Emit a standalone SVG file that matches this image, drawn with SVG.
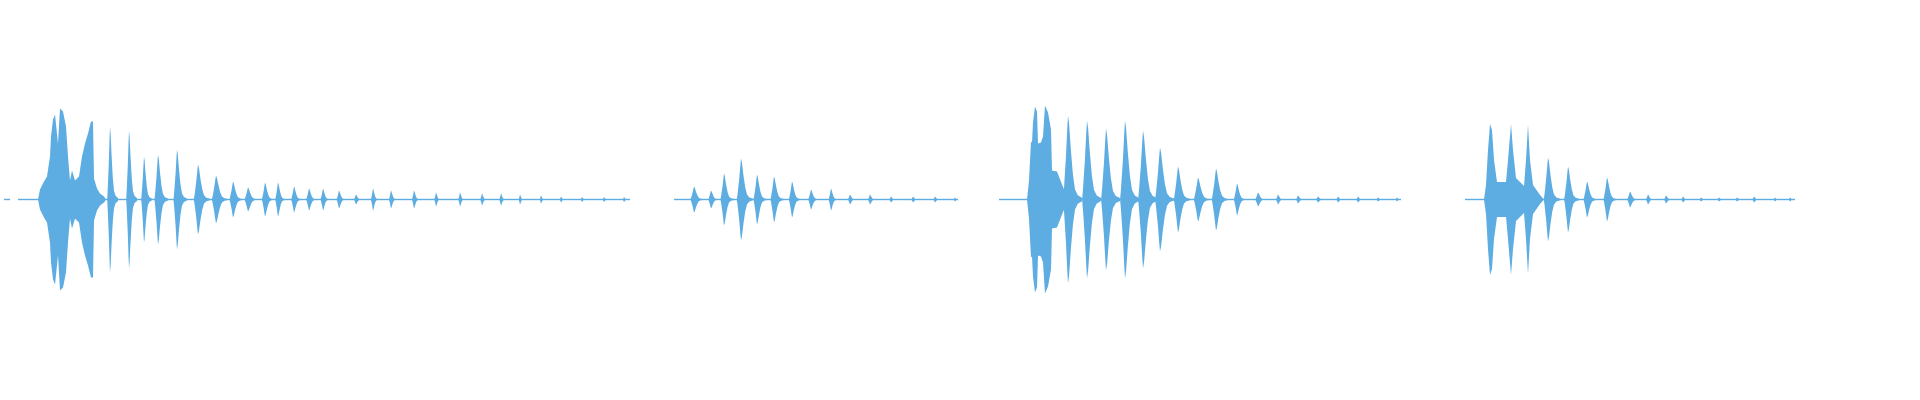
<svg xmlns="http://www.w3.org/2000/svg" xmlns:xlink="http://www.w3.org/1999/xlink" width="1920" height="400" viewBox="0 0 1920 400">
<style>.w{fill:#5DADE2}</style>
<defs>
<path id="b" class="w" d="M-0.35,0 L-0.28,-0.15 L-0.15,-0.5 L-0.05,-0.85 L0,-1 L0.08,-0.9 L0.2,-0.6 L0.35,-0.3 L0.5,-0.12 L0.7,-0.05 L1,-0.02 L1,0.02 L0.7,0.05 L0.5,0.12 L0.35,0.3 L0.2,0.6 L0.08,0.9 L0,1 L-0.05,0.85 L-0.15,0.5 L-0.28,0.15 Z"/>
</defs>
<rect width="1920" height="400" fill="#ffffff"/>
<g class="w">
<rect x="4" y="198.8" width="6" height="1.4"/>
<rect x="18" y="198.8" width="612" height="1.4"/>
<rect x="674" y="198.8" width="284" height="1.4"/>
<rect x="999" y="198.8" width="402" height="1.4"/>
<rect x="1465" y="198.8" width="330" height="1.4"/>
<path d="M38,199.5 L40,189.5 L44,181.5 L47,176.5 L50,156.5 L51,136.5 L53,119.5 L55,114.5 L58,143.5 L60,108.5 L63,111.5 L66,126.5 L68,156.5 L70,180.5 L72,170.5 L75,180.5 L79,176.5 L82,156.5 L85,143.5 L88,133.5 L91,121.5 L93,121.5 L94,178.5 L97,188.5 L100,193.5 L104,196.5 L106,199.5 L104,202.5 L100,205.5 L97,210.5 L94,220.5 L93,277.5 L91,277.5 L88,265.5 L85,255.5 L82,242.5 L79,222.5 L75,218.5 L72,228.5 L70,218.5 L68,242.5 L66,272.5 L63,287.5 L60,290.5 L58,255.5 L55,284.5 L53,279.5 L51,262.5 L50,242.5 L47,222.5 L44,217.5 L40,209.5 Z"/>
<path d="M1027,199.5 L1029,180.5 L1031,141.5 L1032,142.5 L1033,122.5 L1035,106.5 L1037,111.5 L1038,143.5 L1041,142.5 L1043,136.5 L1045,105.5 L1048,112.5 L1051,129.5 L1052,170.5 L1057,171.5 L1062,184.5 L1065,191.5 L1068,199.5 L1065,207.5 L1062,214.5 L1057,227.5 L1052,228.5 L1051,269.5 L1048,286.5 L1045,293.5 L1043,262.5 L1041,256.5 L1038,255.5 L1037,287.5 L1035,292.5 L1033,276.5 L1032,256.5 L1031,257.5 L1029,218.5 Z"/>
<path d="M1484,199.5 L1486,185 L1488,150 L1490,124 L1492,130 L1494,160 L1497,182 L1506,182 L1508,160 L1511,124 L1513,150 L1516,178 L1524,186 L1526,160 L1528,125 L1530,160 L1533,185 L1540,195 L1544,199.5 L1540,204 L1533,214 L1530,239 L1528,274 L1526,239 L1524,213 L1516,221 L1513,249 L1511,275 L1508,239 L1506,217 L1497,217 L1494,239 L1492,269 L1490,275 L1488,249 L1486,214 Z"/>
</g>
<g>
<use href="#b" transform="translate(110,199.5) scale(8,73)"/>
<use href="#b" transform="translate(129,199.5) scale(8,69)"/>
<use href="#b" transform="translate(144,199.5) scale(8,43)"/>
<use href="#b" transform="translate(158,199.5) scale(10,45)"/>
<use href="#b" transform="translate(177,199.5) scale(10,50)"/>
<use href="#b" transform="translate(198,199.5) scale(12,35)"/>
<use href="#b" transform="translate(216,199.5) scale(12,24)"/>
<use href="#b" transform="translate(233,199.5) scale(10,18)"/>
<use href="#b" transform="translate(248,199.5) scale(10,12)"/>
<use href="#b" transform="translate(265,199.5) scale(9,17)"/>
<use href="#b" transform="translate(278,199.5) scale(8,17)"/>
<use href="#b" transform="translate(294,199.5) scale(8,13)"/>
<use href="#b" transform="translate(309,199.5) scale(8,11)"/>
<use href="#b" transform="translate(323,199.5) scale(7,11)"/>
<use href="#b" transform="translate(339,199.5) scale(7,9)"/>
<use href="#b" transform="translate(356,199.5) scale(6,5)"/>
<use href="#b" transform="translate(373,199.5) scale(6,11)"/>
<use href="#b" transform="translate(391,199.5) scale(6,9)"/>
<use href="#b" transform="translate(414,199.5) scale(6,9)"/>
<use href="#b" transform="translate(436,199.5) scale(5,7)"/>
<use href="#b" transform="translate(460,199.5) scale(5,7)"/>
<use href="#b" transform="translate(482,199.5) scale(5,6)"/>
<use href="#b" transform="translate(501,199.5) scale(5,6)"/>
<use href="#b" transform="translate(520,199.5) scale(4,5)"/>
<use href="#b" transform="translate(541,199.5) scale(4,4)"/>
<use href="#b" transform="translate(561,199.5) scale(4,3)"/>
<use href="#b" transform="translate(582,199.5) scale(4,2.5)"/>
<use href="#b" transform="translate(604,199.5) scale(4,2.5)"/>
<use href="#b" transform="translate(624,199.5) scale(4,2.5)"/>

<use href="#b" transform="translate(694,199.5) scale(10,13)"/>
<use href="#b" transform="translate(711,199.5) scale(8,9)"/>
<use href="#b" transform="translate(724,199.5) scale(10,26)"/>
<use href="#b" transform="translate(741,199.5) scale(12,41)"/>
<use href="#b" transform="translate(757,199.5) scale(10,25)"/>
<use href="#b" transform="translate(774,199.5) scale(10,23)"/>
<use href="#b" transform="translate(792,199.5) scale(9,18)"/>
<use href="#b" transform="translate(811,199.5) scale(8,10)"/>
<use href="#b" transform="translate(831,199.5) scale(7,11)"/>
<use href="#b" transform="translate(850,199.5) scale(6,5)"/>
<use href="#b" transform="translate(870,199.5) scale(6,5)"/>
<use href="#b" transform="translate(891,199.5) scale(5,3)"/>
<use href="#b" transform="translate(913,199.5) scale(5,3)"/>
<use href="#b" transform="translate(935,199.5) scale(5,3)"/>
<use href="#b" transform="translate(955,199.5) scale(4,2)"/>

<use href="#b" transform="translate(1068,199.5) scale(14,84)"/>
<use href="#b" transform="translate(1087,199.5) scale(14,79)"/>
<use href="#b" transform="translate(1106,199.5) scale(14,71)"/>
<use href="#b" transform="translate(1125,199.5) scale(14,79)"/>
<use href="#b" transform="translate(1143,199.5) scale(14,69)"/>
<use href="#b" transform="translate(1160,199.5) scale(14,52)"/>
<use href="#b" transform="translate(1178,199.5) scale(12,33)"/>
<use href="#b" transform="translate(1198,199.5) scale(12,22)"/>
<use href="#b" transform="translate(1216,199.5) scale(12,31)"/>
<use href="#b" transform="translate(1237,199.5) scale(9,16)"/>
<use href="#b" transform="translate(1258,199.5) scale(8,7)"/>
<use href="#b" transform="translate(1278,199.5) scale(6,5)"/>
<use href="#b" transform="translate(1298,199.5) scale(6,4)"/>
<use href="#b" transform="translate(1318,199.5) scale(6,3)"/>
<use href="#b" transform="translate(1338,199.5) scale(5,3)"/>
<use href="#b" transform="translate(1358,199.5) scale(5,3)"/>
<use href="#b" transform="translate(1378,199.5) scale(5,2)"/>
<use href="#b" transform="translate(1397,199.5) scale(4,2)"/>

<use href="#b" transform="translate(1548,199.5) scale(12,42)"/>
<use href="#b" transform="translate(1568,199.5) scale(11,33)"/>
<use href="#b" transform="translate(1587,199.5) scale(10,18)"/>
<use href="#b" transform="translate(1607,199.5) scale(10,22)"/>
<use href="#b" transform="translate(1630,199.5) scale(8,8)"/>
<use href="#b" transform="translate(1648,199.5) scale(6,5)"/>
<use href="#b" transform="translate(1666,199.5) scale(6,4)"/>
<use href="#b" transform="translate(1683,199.5) scale(5,3)"/>
<use href="#b" transform="translate(1701,199.5) scale(5,2)"/>
<use href="#b" transform="translate(1719,199.5) scale(5,2)"/>
<use href="#b" transform="translate(1737,199.5) scale(5,2)"/>
<use href="#b" transform="translate(1754,199.5) scale(5,3)"/>
<use href="#b" transform="translate(1775,199.5) scale(4,2)"/>
<use href="#b" transform="translate(1790,199.5) scale(4,2)"/>
</g>
</svg>
